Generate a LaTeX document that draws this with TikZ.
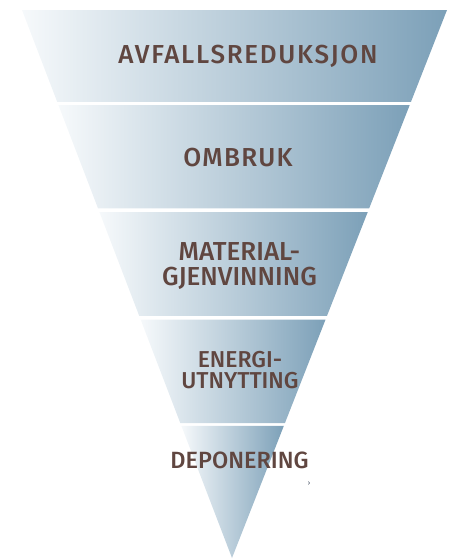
\documentclass[tikz,border=0pt]{standalone}
\usepackage{fontspec}
\setmainfont{Fira Sans}[BoldFont={Fira Sans Medium}]
\usetikzlibrary{calc}
\definecolor{bandlight}{RGB}{246,249,251}
\definecolor{banddark}{RGB}{124,160,184}
\definecolor{labeltext}{RGB}{96,70,64}
\definecolor{marktext}{RGB}{52,64,84}
\tikzset{
  band/.style={left color=bandlight, right color=banddark, draw=none},
  steplabel/.style={text=labeltext, font=\bfseries\fontsize{#1}{#1}\selectfont, align=center, inner sep=0pt},
}
\begin{document}
\begin{tikzpicture}[x=1pt, y=-1pt]
        \useasboundingbox (0,0) rectangle (464,560);

        \coordinate (tl) at (22,10);
        \coordinate (tr) at (447,10);
        \coordinate (apex) at (232,558);

        % bands of the inverted pyramid
        \foreach \ya/\yb in {10/102, 105/208.5, 212/316, 319.5/423, 426/558} {
          \pgfmathsetmacro\fa{(\ya-10)/548}
          \pgfmathsetmacro\fb{(\yb-10)/548}
          \shade[band] ($(tl)!\fa!(apex)$) -- ($(tr)!\fa!(apex)$)
            -- ($(tr)!\fb!(apex)$) -- ($(tl)!\fb!(apex)$) -- cycle;
        }

        \begin{scope}[every node/.style={steplabel=26}]
          \node (reduce)   at (248,56)    {\addfontfeatures{LetterSpace=6.5}AVFALLSREDUKSJON};
          \node (reuse)    at (238,157.5) {\addfontfeatures{LetterSpace=5}OMBRUK};
          \node (recycle)  at (239.5,266.5) {MATERIAL-\\[-1pt]GJENVINNING};
        \end{scope}
        \begin{scope}[every node/.style={steplabel=23}]
          \node (recover)  at (240,370.5) {ENERGI-\\[-2pt]UTNYTTING};
        \end{scope}
        \node[steplabel=23.5] (landfill) at (239.5,460.5) {DEPONERING};

        \node[text=marktext, font=\fontsize{7}{7}\selectfont, inner sep=0pt] (mark) at (309,484) {›};

      \end{tikzpicture}
\end{document}
